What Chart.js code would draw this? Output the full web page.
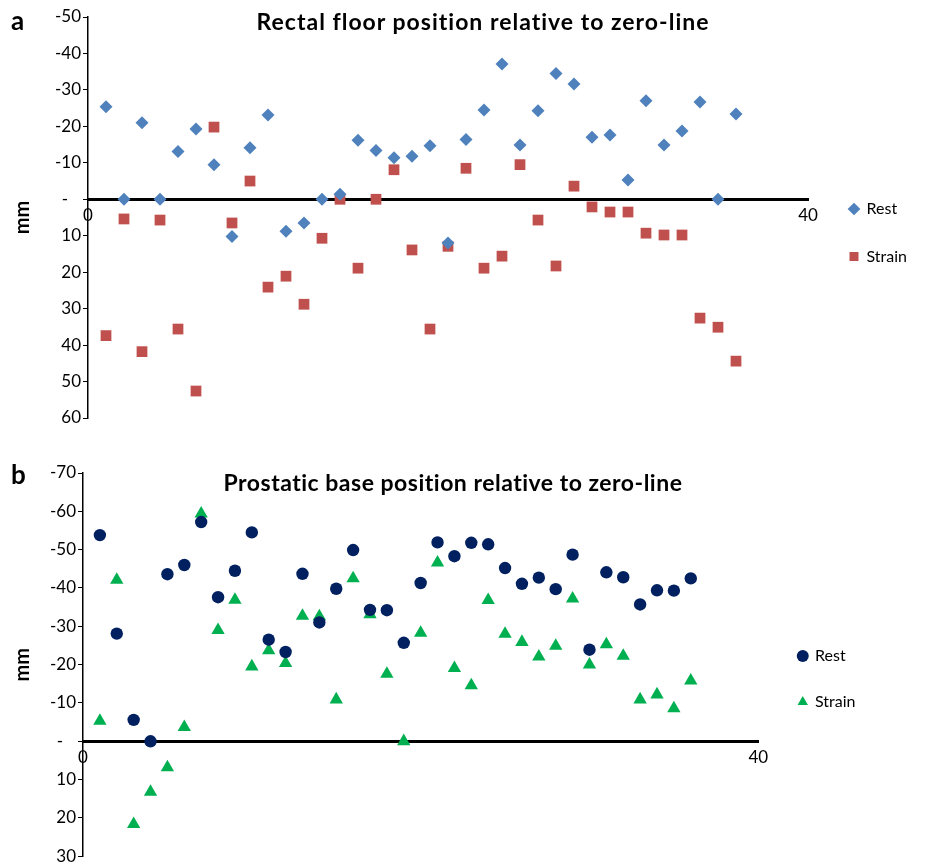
<!DOCTYPE html>
<html>
<head>
<meta charset="utf-8">
<script src="https://cdn.jsdelivr.net/npm/chart.js@4.4.1/dist/chart.umd.min.js"></script>
<style>
  html, body { margin: 0; padding: 0; background: #fff; }
  body { width: 925px; height: 864px; position: relative; overflow: hidden; font-family: Lato, sans-serif; }
  .box { position: absolute; left: 0; width: 925px; }
  #boxA { top: 0; height: 440px; }
  #boxB { top: 440px; height: 424px; }
  .lbl { position: absolute; font-weight: bold; line-height: 1.2; white-space: nowrap; color: #000; }
  .panel { font-size: 26px; left: 11px; }
  .title { font-size: 23px; transform: translateX(-50%); }
</style>
</head>
<body>
<div class="box" id="boxA"><canvas id="chartA"></canvas></div>
<div class="box" id="boxB"><canvas id="chartB"></canvas></div>
<div class="lbl panel" style="top:5px">a</div>
<div class="lbl title" style="left:483px;top:8px;letter-spacing:1px">Rectal floor position relative to zero-line</div>
<div class="lbl panel" style="top:459px">b</div>
<div class="lbl title" style="left:453px;top:469px;letter-spacing:0.5px">Prostatic base position relative to zero-line</div>
<script>
// subject number on the x axis
const subjects = [1, 2, 3, 4, 5, 6, 7, 8, 9, 10, 11, 12, 13, 14, 15, 16, 17, 18,
  19, 20, 21, 22, 23, 24, 25, 26, 27, 28, 29, 30, 31, 32, 33, 34, 35, 36];

// panel a: rectal floor (mm, negative = above zero-line)
const rectalRest = [-25.4, 0, -21, 0, -13.1, -19.3, -9.5, 10.2, -14.1, -23.1, 8.8, 6.5,
  0, -1.4, -16.2, -13.4, -11.4, -11.8, -14.7, 12.0, -16.4, -24.5, -37.1, -14.9,
  -24.3, -34.5, -31.6, -17.0, -17.6, -5.3, -27.0, -14.9, -18.7, -26.7, 0, -23.4];
const rectalStrain = [37.4, 5.4, 41.8, 5.7, 35.6, 52.6, -19.8, 6.5, -5.0, 24.1, 21.1, 28.8,
  10.7, 0, 18.9, 0, -8.1, 13.9, 35.6, 12.9, -8.5, 18.9, 15.6, -9.5,
  5.7, 18.3, -3.6, 2.1, 3.5, 3.5, 9.3, 9.8, 9.8, 32.6, 35.1, 44.4];

// panel b: prostatic base
const prostateRest = [-53.8, -28.1, -5.6, 0, -43.6, -46.0, -57.2, -37.6, -44.5, -54.5, -26.5, -23.3,
  -43.7, -31.0, -39.8, -49.9, -34.3, -34.2, -25.7, -41.3, -51.9, -48.3, -51.8, -51.4,
  -45.2, -41.1, -42.7, -39.7, -48.7, -23.9, -44.1, -42.8, -35.7, -39.4, -39.3, -42.5];
const prostateStrain = [-5.3, -42.1, 21.6, 13.2, 6.8, -3.7, -59.4, -29.0, -36.9, -19.5, -23.7, -20.4,
  -32.7, -32.6, -10.9, -42.5, -33.1, -17.6, 0, -28.3, -46.6, -19.1, -14.6, -36.8,
  -28.0, -25.9, -22.1, -24.9, -37.2, -20.0, -25.3, -22.3, -10.9, -12.2, -8.6, -15.8];

const seriesNames = ['Rest', 'Strain'];
const rectalRange = [-50, 60];
const prostateRange = [-70, 30];
const xRange = [0, 40];

Chart.defaults.font.family = 'Lato, sans-serif';
Chart.defaults.font.size = 16;
Chart.defaults.color = '#000';

function points(values) {
  return subjects.map((s, i) => ({ x: s, y: values[i] }));
}

// put the legend where the original has it (outside the plot, right side)
function legendAt(left, top) {
  return {
    id: 'legendAt',
    afterLayout(chart) {
      const lg = chart.legend;
      lg.left = left;
      lg.top = top;
      lg.right = chart.width;
      lg.bottom = chart.height;
      lg.width = lg.right - lg.left;
      lg.height = lg.bottom - lg.top;
    }
  };
}

function dataset(label, values, style, radius, color) {
  return {
    label: label,
    data: points(values),
    pointStyle: style,
    pointRadius: radius,
    pointHoverRadius: radius,
    backgroundColor: color,
    borderColor: color,
    pointBorderWidth: 0
  };
}

function makeChart(id, datasets, range, axisWidth, padding, legendPos, boxSize, legendPad) {
  return new Chart(document.getElementById(id), {
    type: 'scatter',
    data: { datasets: datasets },
    options: {
      animation: false,
      responsive: true,
      maintainAspectRatio: false,
      layout: { padding: padding },
      plugins: {
        legend: {
          position: 'chartArea',
          align: 'start',
          labels: {
            usePointStyle: true,
            boxWidth: boxSize,
            boxHeight: boxSize,
            padding: legendPad,
            font: { size: 16 }
          }
        },
        tooltip: { enabled: false }
      },
      scales: {
        x: {
          type: 'linear',
          position: { y: 0 },
          min: xRange[0],
          max: xRange[1],
          grid: { display: false, drawTicks: false },
          border: { display: true, color: '#000', width: 3 },
          ticks: { stepSize: 40, padding: 6, font: { size: 17 } }
        },
        y: {
          reverse: true,
          min: range[0],
          max: range[1],
          afterFit: (s) => {
            s.width = axisWidth;
            s.paddingTop = 0;
            s.paddingBottom = 0;
          },
          grid: { drawOnChartArea: false, tickLength: 5, color: '#000' },
          border: { color: '#000', width: 1.5 },
          ticks: {
            stepSize: 10,
            padding: 2,
            font: { size: 17 },
            callback: (v) => v === 0 ? '-   ' : String(v)
          },
          title: {
            display: true,
            text: 'mm',
            font: { size: 20, weight: 'bold' },
            padding: { top: 11, bottom: 0 }
          }
        }
      }
    },
    plugins: [legendAt(legendPos[0], legendPos[1])]
  });
}

makeChart('chartA', [
  dataset(seriesNames[0], rectalRest, 'rectRot', 6.5, '#4F81BD'),
  dataset(seriesNames[1], rectalStrain, 'rect', 7.6, '#C0504D')
], rectalRange, 88, { top: 17, bottom: 22, left: 0, right: 117 }, [818, 169.5], 9, 31.5);

makeChart('chartB', [
  dataset(seriesNames[0], prostateRest, 'circle', 6.2, '#002060'),
  dataset(seriesNames[1], prostateStrain, 'triangle', 7.7, '#00B050')
], prostateRange, 83, { top: 33, bottom: 4, left: 0, right: 166.7 }, [768.5, 178], 8.5, 30);
</script>
</body>
</html>
